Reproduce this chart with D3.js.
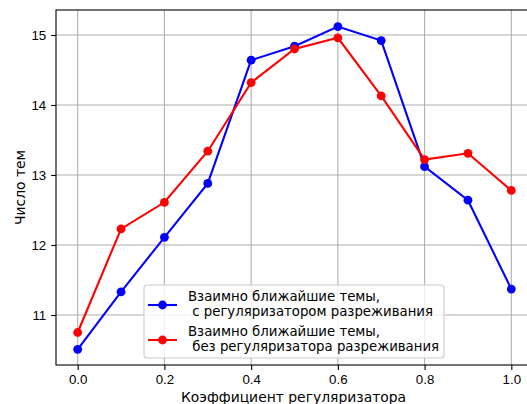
<!DOCTYPE html>
<html lang="ru">
<head>
<meta charset="UTF-8">
<script src="https://d3js.org/d3.v7.min.js"></script>
<title>Число тем</title>
<style>
  body { margin: 0; background: #fff; }
  svg { display: block; font-family: "DejaVu Sans", sans-serif; }
  .grid line { stroke: #b0b0b0; stroke-width: 1.1; }
  .axis text { font-size: 13.3px; fill: #000; }
  .axis line { stroke: #000; stroke-width: 1.1; }
</style>
</head>
<body>
<svg width="527" height="404"></svg>
<script>
const coef = [0.0, 0.1, 0.2, 0.3, 0.4, 0.5, 0.6, 0.7, 0.8, 0.9, 1.0]
const withReg = [10.51, 11.33, 12.11, 12.88, 14.64, 14.84, 15.12, 14.92, 13.12, 12.64, 11.37]
const withoutReg = [10.75, 12.23, 12.61, 13.34, 14.32, 14.80, 14.96, 14.13, 13.22, 13.31, 12.78]
const xTicks = [0.0, 0.2, 0.4, 0.6, 0.8, 1.0]
const yTicks = [11, 12, 13, 14, 15]
const labels = [
  ["Взаимно ближайшие темы,", " с регуляризатором разреживания"],
  ["Взаимно ближайшие темы,", " без регуляризатора разреживания"]
]

const svg = d3.select("svg")
const mLeft = 56, mRight = 533, mTop = 10, mBottom = 365

const x = d3.scaleLinear().domain([-0.05, 1.05]).range([mLeft, mRight])
const y = d3.scaleLinear().domain([10.2857, 15.357]).range([mBottom, mTop])

// сетка
const grid = svg.append("g").attr("class", "grid")
grid.selectAll(".gx").data(xTicks).enter().append("line")
  .attr("x1", d => x(d)).attr("x2", d => x(d)).attr("y1", mTop).attr("y2", mBottom)
grid.selectAll(".gy").data(yTicks).enter().append("line")
  .attr("x1", mLeft).attr("x2", mRight).attr("y1", d => y(d)).attr("y2", d => y(d))

// оси
svg.append("g").attr("class", "axis").attr("transform", `translate(0,${mBottom})`)
  .call(d3.axisBottom(x).tickValues(xTicks).tickFormat(d3.format(".1f")).tickSize(4.9).tickPadding(4.9))
  .call(g => g.select(".domain").remove())
svg.append("g").attr("class", "axis").attr("transform", `translate(${mLeft},0)`)
  .call(d3.axisLeft(y).tickValues(yTicks).tickFormat(d3.format("d")).tickSize(4.9).tickPadding(4.9))
  .call(g => g.select(".domain").remove())

// рамка
svg.append("rect").attr("x", mLeft).attr("y", mTop).attr("width", mRight - mLeft).attr("height", mBottom - mTop)
  .attr("fill", "none").attr("stroke", "#000").attr("stroke-width", 1.1)

const line = d3.line().x((d, i) => x(coef[i])).y(d => y(d))
const series = [
  { values: withReg, color: "#0000ff" },
  { values: withoutReg, color: "#ff0000" }
]

series.forEach(s => {
  svg.append("path").datum(s.values).attr("d", line)
    .attr("fill", "none").attr("stroke", s.color).attr("stroke-width", 2.08)
  svg.selectAll(null).data(s.values).enter().append("circle")
    .attr("cx", (d, i) => x(coef[i])).attr("cy", d => y(d)).attr("r", 4.4)
    .attr("fill", s.color)
})

// подписи осей
svg.append("text").attr("x", (mLeft + mRight) / 2 - 1).attr("y", 402)
  .attr("text-anchor", "middle").attr("font-size", 13.9).text("Коэффициент регуляризатора")
svg.append("text").attr("transform", `translate(25,${(mTop + mBottom) / 2}) rotate(-90)`)
  .attr("text-anchor", "middle").attr("font-size", 13.9).text("Число тем")

// легенда
const lg = svg.append("g").attr("transform", "translate(144,285)")
lg.append("rect").attr("width", 300).attr("height", 73).attr("rx", 3)
  .attr("fill", "#fff").attr("fill-opacity", 0.8).attr("stroke", "#cccccc").attr("stroke-width", 1.1)
series.forEach((s, i) => {
  const cy = 20 + i * 35
  lg.append("line").attr("x1", 4).attr("x2", 33).attr("y1", cy).attr("y2", cy)
    .attr("stroke", s.color).attr("stroke-width", 2.08)
  lg.append("circle").attr("cx", 18.5).attr("cy", cy).attr("r", 4.4).attr("fill", s.color)
  const t = lg.append("text").attr("font-size", 13.3).attr("xml:space", "preserve")
  labels[i].forEach((l, j) => {
    t.append("tspan").attr("x", 44).attr("y", cy - 4.3 + j * 15).text(l)
  })
})
</script>
</body>
</html>
